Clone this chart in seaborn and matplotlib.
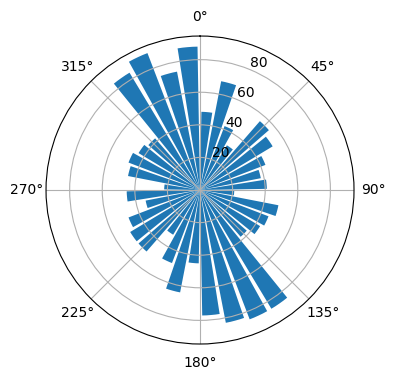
import numpy as np
import pandas as pd
import matplotlib
matplotlib.use("Agg")
import matplotlib.pyplot as plt
import seaborn as sns

# Bar directions (degrees, centre of each 10-degree sector) and bar lengths
directions = [5, 15, 25, 35, 45, 55, 65, 75, 85,
              95, 105, 115, 125, 135, 145, 155, 165, 175,
              185, 195, 205, 215, 225, 235, 245, 255, 265,
              275, 285, 295, 305, 315, 325, 335, 345, 355]
values = [48, 68, 42, 32, 56, 52, 43, 38, 41,
          21, 49, 45, 43, 38, 85, 85, 83, 77,
          45, 64, 48, 32, 50, 50, 47, 34, 45,
          22, 45, 47, 44, 42, 84, 90, 74, 88]

df = pd.DataFrame({"theta": np.deg2rad(directions), "r": values})

fig = plt.figure(figsize=(3.96, 3.80), dpi=100)
ax = fig.add_axes([0.1162, 0.0947, 0.7778, 0.8105], projection="polar")
ax.set_theta_zero_location("N")
ax.set_theta_direction(-1)

sns.barplot(data=df, x="theta", y="r", native_scale=True, orient="x",
            color=sns.color_palette("tab10")[0], saturation=1,
            errorbar=None, ax=ax)

ax.set_xlabel("")
ax.set_ylabel("")
ax.set_ylim(0, max(values) * 1.05)
ax.set_xticks(np.deg2rad(np.arange(0, 360, 45)))
ax.set_yticks([20, 40, 60, 80])
ax.set_rlabel_position(22.5)
ax.grid(True)

fig.savefig("out.png", dpi=100)
